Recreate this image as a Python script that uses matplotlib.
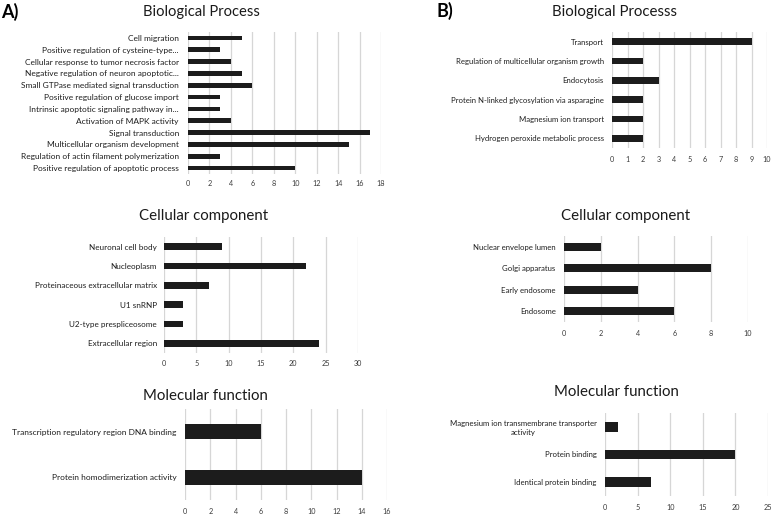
import matplotlib.pyplot as plt
import numpy as np

W, H = 777, 515
plt.rcParams['font.family'] = ['Lato', 'DejaVu Sans']

# A) panels
bp_a_labels = ['Cell migration', 'Positive regulation of cysteine-type...',
               'Cellular response to tumor necrosis factor',
               'Negative regulation of neuron apoptotic...',
               'Small GTPase mediated signal transduction',
               'Positive regulation of glucose import',
               'Intrinsic apoptotic signaling pathway in...',
               'Activation of MAPK activity', 'Signal transduction',
               'Multicellular organism development',
               'Regulation of actin filament polymerization',
               'Positive regulation of apoptotic process']
bp_a_values = [5, 3, 4, 5, 6, 3, 3, 4, 17, 15, 3, 10]
bp_a_ticks = list(range(0, 19, 2))

cc_a_labels = ['Neuronal cell body', 'Nucleoplasm', 'Proteinaceous extracellular matrix',
               'U1 snRNP', 'U2-type prespliceosome', 'Extracellular region']
cc_a_values = [9, 22, 7, 3, 3, 24]
cc_a_ticks = list(range(0, 31, 5))

mf_a_labels = ['Transcription regulatory region DNA binding', 'Protein homodimerization activity']
mf_a_values = [6, 14]
mf_a_ticks = list(range(0, 17, 2))

# B) panels
bp_b_labels = ['Transport', 'Regulation of multicellular organism growth', 'Endocytosis',
               'Protein N-linked glycosylation via asparagine', 'Magnesium ion transport',
               'Hydrogen peroxide metabolic process']
bp_b_values = [9, 2, 3, 2, 2, 2]
bp_b_ticks = list(range(0, 11))

cc_b_labels = ['Nuclear envelope lumen', 'Golgi apparatus', 'Early endosome', 'Endosome']
cc_b_values = [2, 8, 4, 6]
cc_b_ticks = list(range(0, 11, 2))

mf_b_labels = ['Magnesium ion transmembrane transporter\nactivity', 'Protein binding',
               'Identical protein binding']
mf_b_values = [2, 20, 7]
mf_b_ticks = list(range(0, 26, 5))

fig = plt.figure(figsize=(W / 100, H / 100), dpi=100)


def panel(box, labels, values, ticks, title, title_xy, bar_h=0.35, lab_size=5.6,
          ypad=6, xpad=4.5, title_size=10.8):
    l, t, r, b = box
    ax = fig.add_axes([l / W, 1 - b / H, (r - l) / W, (b - t) / H])
    y = np.arange(len(labels))
    ax.barh(y, values, height=bar_h, color='#1c1c1c', zorder=3)
    ax.set_ylim(len(labels) - 0.5, -0.5)
    ax.set_xlim(ticks[0], ticks[-1])
    ax.set_xticks(ticks)
    ax.set_yticks(y)
    ax.set_yticklabels(labels, fontsize=lab_size, color='#1e1e1e', multialignment='center')
    ax.tick_params(axis='x', length=0, labelsize=5.2, labelcolor='#3a3a3a', pad=xpad)
    ax.tick_params(axis='y', length=0, pad=ypad)
    ax.xaxis.grid(True, color='#d6d6d6', linewidth=0.9, zorder=0)
    for s in ax.spines.values():
        s.set_visible(False)
    fig.text(title_xy[0] / W, 1 - title_xy[1] / H, title, ha='center', va='center',
             fontsize=title_size, color='#1a1a1a')
    return ax


panel((188, 32, 381, 174), bp_a_labels, bp_a_values, bp_a_ticks,
      'Biological Process', (201, 12), bar_h=0.4, lab_size=6.0, ypad=6.5, title_size=10.6)
panel((164, 237, 358, 353), cc_a_labels, cc_a_values, cc_a_ticks,
      'Cellular component', (204, 216), lab_size=5.9, ypad=5, xpad=5)
panel((185, 409, 387, 500), mf_a_labels, mf_a_values, mf_a_ticks,
      'Molecular function', (205, 396), bar_h=0.33, lab_size=6.0, xpad=6)

panel((612, 32, 767, 148), bp_b_labels, bp_b_values, bp_b_ticks,
      'Biological Processs', (615, 12), xpad=5.5)
panel((564, 236, 748, 322), cc_b_labels, cc_b_values, cc_b_ticks,
      'Cellular component', (626, 216), xpad=5.5)
panel((605, 413, 768, 496), mf_b_labels, mf_b_values, mf_b_ticks,
      'Molecular function', (616, 392), xpad=5.5)

fig.text(1 / W, 1 - 12 / H, 'A)', fontsize=13, fontweight='bold', ha='left', va='center')
fig.text(437 / W, 1 - 11 / H, 'B)', fontsize=13, fontweight='bold', ha='left', va='center')

fig.savefig('out.png', dpi=100, facecolor='white')
